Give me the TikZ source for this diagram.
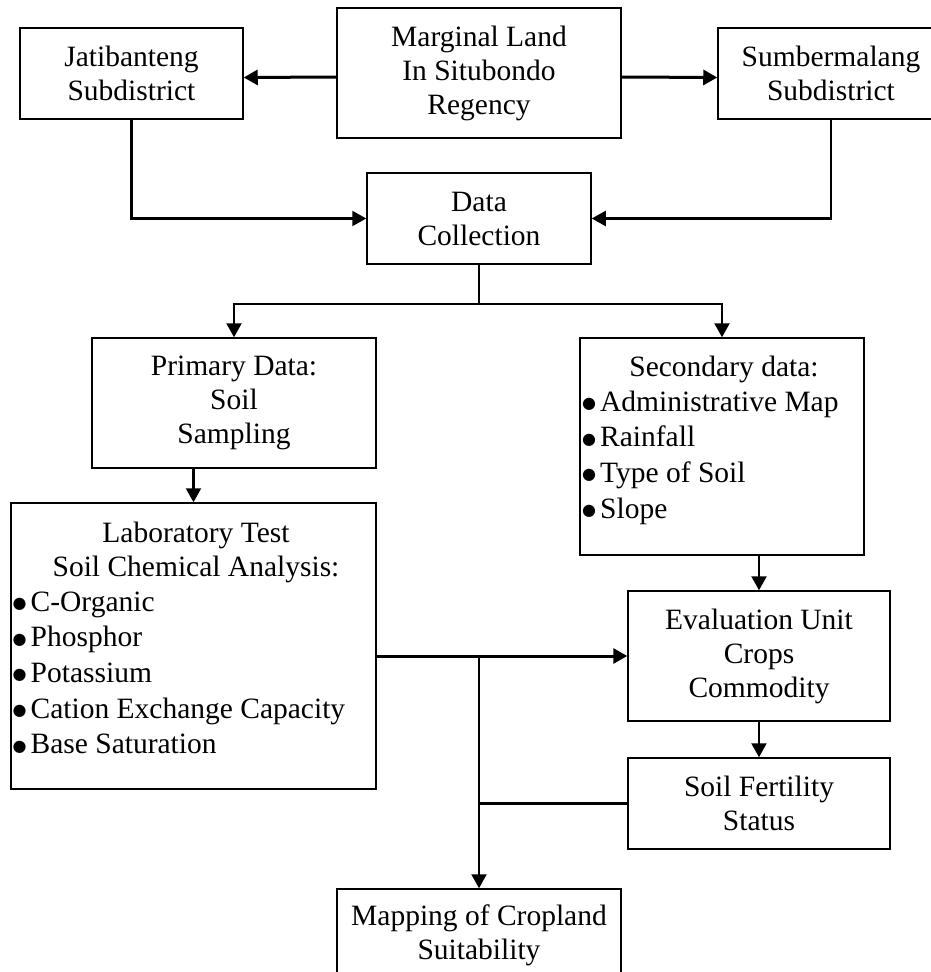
\documentclass[tikz,border=0pt]{standalone}
\usepackage{fontspec}
\setmainfont{Liberation Serif}
\newfontfamily\dejavu{DejaVu Sans}
\usetikzlibrary{arrows.meta}
\newcommand\fsz{\fontsize{29.5}{34}\selectfont}
\newcommand\bul{\raisebox{2.5pt}{\dejavu\fontsize{16}{16}\selectfont ●}}
\begin{document}
\begin{tikzpicture}[x=1pt,y=-1pt,
  box/.style={draw, line width=1.5pt, inner sep=0pt, align=center, font=\fsz},
  txt/.style={inner sep=0pt, font=\fsz},
  arr/.style={-{Triangle[length=14pt,width=15pt]}, line width=2.2pt},
  thickarr/.style={-{Triangle[length=14pt,width=15pt]}, line width=3pt},
  link/.style={line width=2.4pt},
  thinlink/.style={line width=1.4pt}]
\useasboundingbox (0,0) rectangle (931,972);
\clip (0,0) rectangle (931,972);
% boxes
\node[box, minimum width=223pt, minimum height=91pt] (jat) at (131.5,73.5) {Jatibanteng\\Subdistrict};
\node[box, minimum width=284pt, minimum height=130pt] (mar) at (479,73) {Marginal Land\\In Situbondo\\Regency};
\node[box, minimum width=226pt, minimum height=91pt] (sum) at (831,73.5) {Sumbermalang\\Subdistrict};
\node[box, minimum width=224pt, minimum height=91pt] (dc) at (479,218.5) {Data\\Collection};
\node[box, minimum width=284pt, minimum height=130pt] (pri) at (234,403) {Primary Data:\\Soil\\Sampling};
\node[box, minimum width=284pt, minimum height=217pt] (sec) at (722,446.5) {};
\node[box, minimum width=365pt, minimum height=286pt] (lab) at (193.5,646) {};
\node[box, minimum width=262pt, minimum height=130pt] (eva) at (759,656) {Evaluation Unit\\Crops\\Commodity};
\node[box, minimum width=262pt, minimum height=91pt] (fer) at (759,803.5) {Soil Fertility\\Status};
\node[box, minimum width=284pt, minimum height=92pt] (map) at (479,935) {Mapping of Cropland\\Suitability};
% texts of bullet boxes
\node[txt, anchor=base] (sech) at (724,376) {Secondary data:};
\foreach \t [count=\i] in {Administrative Map,Rainfall,Type of Soil,Slope}
  \node[txt, anchor=base west] (secb\i) at ({582},{411+35.7*(\i-1)}) {\bul\hspace{4pt}\t};
\node[txt, anchor=base] (labh1) at (196,542) {Laboratory Test};
\node[txt, anchor=base] (labh2) at (196,576) {Soil Chemical Analysis:};
\foreach \t [count=\i] in {C-Organic,Phosphor,Potassium,Cation Exchange Capacity,Base Saturation}
  \node[txt, anchor=base west] (labb\i) at ({12.5},{611+35.7*(\i-1)}) {\bul\hspace{4pt}\t};
% connectors
\draw[thickarr] ([yshift=-4pt]mar.west) -- ([yshift=-4pt]jat.east);
\draw[thickarr] ([yshift=-4pt]mar.east) -- ([yshift=-4pt]sum.west);
\draw[arr] (jat.south) |- (dc.west);
\draw[arr] (sum.south) |- (dc.east);
\draw[thinlink] (dc.south) -- ++(0,39) coordinate (split);
\draw[arr] (split) -| (pri.north);
\draw[arr] (split) -| (sec.north);
\draw[arr] (lab.north |- pri.south) -- (lab.north);
\draw[arr] (eva.north |- sec.south) -- (eva.north);
\draw[thickarr] (lab.east |- eva.west) -- (eva.west);
\draw[arr] (map.north |- eva.west) -- (map.north);
\draw[link] (fer.west) -- (map.north |- fer.west);
\draw[arr] (eva.south) -- (fer.north);
\end{tikzpicture}
\end{document}
